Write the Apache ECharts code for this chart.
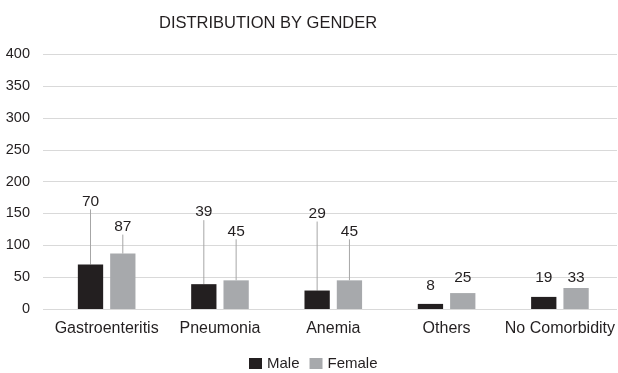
<!DOCTYPE html>
<html>
<head>
<meta charset="utf-8">
<script src="https://cdn.jsdelivr.net/npm/echarts@6/dist/echarts.min.js"></script>
<style>html,body{margin:0;padding:0;background:#fff}#c{width:618px;height:373px}</style>
</head>
<body>
<div id="c"></div>
<script>
const categories = ['Gastroenteritis', 'Pneumonia', 'Anemia', 'Others', 'No Comorbidity'];
const male = [70, 39, 29, 8, 19];
const female = [87, 45, 45, 25, 33];
const yTicks = { min: 0, max: 400, interval: 50 };

// label displacement (pixels, styling only)
const maleLift = [-50, -59, -64, -5, -6];
const femaleLift = [-14, -36, -36, -2, 3];

const FONT = '"Liberation Sans", Arial, sans-serif';
const TXT = '#231f20';

function items(vals, lift) {
  return vals.map((v, i) => ({ value: v, labelLine: { show: lift[i] < -10 } }));
}

const chart = echarts.init(document.getElementById('c'), null, { renderer: 'canvas' });
chart.setOption({
  animation: false,
  textStyle: { fontFamily: FONT },
  title: {
    text: 'DISTRIBUTION BY GENDER',
    left: 159, top: 15, padding: 0,
    textStyle: { fontFamily: FONT, fontSize: 16.5, fontWeight: 'normal', color: TXT }
  },
  legend: {
    data: ['Male', 'Female'],
    left: 249, top: 356, padding: 0,
    icon: 'rect', itemWidth: 13, itemHeight: 11, itemGap: 10,
    textStyle: { fontFamily: FONT, fontSize: 15, color: TXT }
  },
  grid: [
    { left: 43, right: 1, top: 54.3, bottom: 64 },
    { left: 50, right: 1, top: 54.3, bottom: 64 }
  ],
  xAxis: [
    { type: 'value', gridIndex: 0, show: false, min: 0, max: 1 },
    {
      type: 'category', gridIndex: 1, data: categories,
      axisLine: { show: false }, axisTick: { show: false },
      axisLabel: { interval: 0, fontFamily: FONT, fontSize: 16, color: TXT, margin: 12 }
    }
  ],
  yAxis: [
    {
      type: 'value', gridIndex: 0, min: yTicks.min, max: yTicks.max, interval: yTicks.interval,
      axisLine: { show: false }, axisTick: { show: false },
      axisLabel: { fontFamily: FONT, fontSize: 14.5, color: TXT, margin: 13 },
      splitLine: { lineStyle: { color: '#d9d9d9', width: 1 } }
    },
    {
      type: 'value', gridIndex: 1, min: yTicks.min, max: yTicks.max, interval: yTicks.interval,
      show: false, splitLine: { show: false }
    }
  ],
  series: [
    {
      name: 'Male', type: 'bar', xAxisIndex: 1, yAxisIndex: 1,
      data: items(male, maleLift),
      barWidth: 25.3, barGap: '27.7%',
      itemStyle: { color: '#231f20' },
      label: { show: true, position: 'top', distance: 5, fontFamily: FONT, fontSize: 15.5, color: TXT },
      labelLine: { show: true, lineStyle: { color: '#a6a6a6', width: 1 } },
      labelLayout: p => ({ dy: maleLift[p.dataIndex] })
    },
    {
      name: 'Female', type: 'bar', xAxisIndex: 1, yAxisIndex: 1,
      data: items(female, femaleLift),
      barWidth: 25.3, barGap: '27.7%',
      itemStyle: { color: '#a7a9ac' },
      label: { show: true, position: 'top', distance: 5, fontFamily: FONT, fontSize: 15.5, color: TXT },
      labelLine: { show: true, lineStyle: { color: '#a6a6a6', width: 1 } },
      labelLayout: p => ({ dy: femaleLift[p.dataIndex] })
    }
  ]
});
</script>
</body>
</html>
